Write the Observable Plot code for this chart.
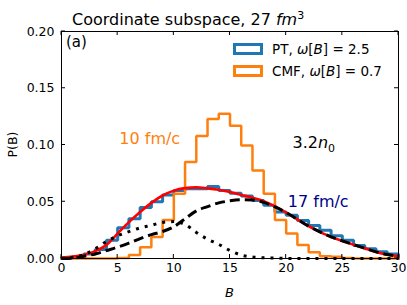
<!DOCTYPE html>
<html><head><meta charset="utf-8">
<script src="https://cdn.jsdelivr.net/npm/d3@7"></script>
<script src="https://cdn.jsdelivr.net/npm/@observablehq/plot@0.6"></script>
<style>
body{margin:0;background:#fff;}
#chart{position:relative;width:407px;height:305px;}
#chart svg{font-family:"DejaVu Sans",sans-serif;}
</style></head><body><div id="chart"></div>
<script>
// ---- data ----
const binLefts = [0,1,2,3,4,5,6,7,8,9,10,11,12,13,14,15,16,17,18,19,20,21,22,23,24,25,26,27,28,29];
const binWidth = 1;
const ptHist = [0.0005,0.0015,0.004,0.008,0.016,0.027,0.035,0.045,0.050,0.056,0.060,0.0615,0.0615,0.0635,0.060,0.0575,0.055,0.051,0.047,0.041,0.038,0.0335,0.029,0.025,0.020,0.016,0.0115,0.0085,0.006,0.004];
const cmfHist = [0,0,0,0,0,0.0005,0.003,0.010,0.019,0.034,0.057,0.085,0.108,0.123,0.1275,0.117,0.0996,0.0775,0.057,0.034,0.022,0.012,0.0055,0.002,0.0015,0.0005,0,0,0,0];
const curveB = [0,1,2,3,4,5,6,7,8,9,10,11,12,13,14,15,16,17,18,19,20,21,22,23,24,25,26,27,28,29,30];
const fitTotal = [0.0008,0.0018,0.0033,0.0065,0.012,0.022,0.032,0.041,0.049,0.0555,0.0598,0.062,0.0627,0.0618,0.0605,0.0585,0.056,0.0535,0.0505,0.046,0.0405,0.0345,0.0285,0.0235,0.019,0.0155,0.0122,0.009,0.0058,0.0035,0.002];
const compLow = [0,0.001,0.0035,0.0085,0.015,0.020,0.0237,0.027,0.0293,0.0318,0.0325,0.030,0.023,0.017,0.0125,0.007,0.003,0.0013,0.0006,0.0003,0.0001,0,0,0,0,0,0,0,0,0,0];
const compHigh = [0,0.0003,0.002,0.004,0.007,0.010,0.0135,0.0175,0.021,0.0238,0.028,0.035,0.042,0.0457,0.049,0.0508,0.0517,0.0515,0.0495,0.0455,0.0405,0.0345,0.0285,0.0235,0.019,0.0155,0.0122,0.009,0.0058,0.0035,0.002];
const xTicks = [0,5,10,15,20,25,30];
const yTicks = [0,0.05,0.10,0.15,0.20];
const yTickLabels = ["0.00","0.05","0.10","0.15","0.20"];

// step outline like matplotlib histtype="step"
function stepOutline(vals){
  const pts = [{x: binLefts[0], y: 0}];
  vals.forEach((v,i)=>pts.push({x: binLefts[i], y: v}));
  const last = binLefts[binLefts.length-1] + binWidth;
  pts.push({x: last, y: vals[vals.length-1]});
  pts.push({x: last, y: 0});
  return pts;
}
const curvePts = arr => curveB.map((b,i)=>({x:b, y:arr[i]}));

const chart = Plot.plot({
  width: 407, height: 305,
  marginLeft: 61, marginRight: 9, marginTop: 31, marginBottom: 47,
  style: {fontFamily: "DejaVu Sans, sans-serif", fontSize: "12.5px", background: "white", color: "black"},
  x: {domain: [0,30]},
  y: {domain: [0,0.2]},
  marks: [
    Plot.line(stepOutline(ptHist), {x:"x", y:"y", curve:"step-after", stroke:"#1f77b4", strokeWidth:3, strokeLinejoin:"miter"}),
    Plot.line(stepOutline(cmfHist), {x:"x", y:"y", curve:"step-after", stroke:"#ff7f0e", strokeWidth:2.5, strokeLinejoin:"miter"}),
    Plot.line(curvePts(fitTotal), {x:"x", y:"y", curve:"monotone-x", stroke:"#ff0000", strokeWidth:2.6}),
    Plot.line(curvePts(compLow), {x:"x", y:"y", curve:"monotone-x", stroke:"black", strokeWidth:3, strokeDasharray:"3,6", strokeLinecap:"butt"}),
    Plot.line(curvePts(compHigh), {x:"x", y:"y", curve:"monotone-x", stroke:"black", strokeWidth:3, strokeDasharray:"10,5", strokeLinecap:"butt"}),
    Plot.frame({stroke:"black", strokeWidth:1}),
    Plot.axisX({ticks: xTicks, tickSize: 0, tickPadding: 5, label: null, tickFormat: d => String(d)}),
    Plot.axisY({ticks: yTicks, tickSize: 0, tickPadding: 7, label: null, tickFormat: (d,i) => yTickLabels[yTicks.indexOf(d)]})
  ]
});
document.getElementById("chart").appendChild(chart);

const sx = chart.scale("x"), sy = chart.scale("y");
const svg = d3.select(chart);
const X = v => sx.apply(v), Y = v => sy.apply(v);
const x0 = X(0), x1 = X(30), y0 = Y(0), y1 = Y(0.2);
const tk = 4;
const g = svg.append("g").attr("stroke","black").attr("stroke-width",1);
xTicks.forEach(t=>{
  g.append("line").attr("x1",X(t)).attr("x2",X(t)).attr("y1",y0).attr("y2",y0-tk);
  g.append("line").attr("x1",X(t)).attr("x2",X(t)).attr("y1",y1).attr("y2",y1+tk);
});
yTicks.forEach(t=>{
  g.append("line").attr("y1",Y(t)).attr("y2",Y(t)).attr("x1",x0).attr("x2",x0+tk);
  g.append("line").attr("y1",Y(t)).attr("y2",Y(t)).attr("x1",x1).attr("x2",x1-tk);
});

// title
const title = svg.append("text").attr("x",72).attr("y",25).attr("font-size",16).attr("fill","black").attr("text-anchor","start");
title.append("tspan").text("Coordinate subspace, 27 ");
title.append("tspan").attr("font-style","italic").text("fm");
title.append("tspan").attr("font-size",11).attr("dy",-6).text("3");

// axis labels
svg.append("text").attr("x",(x0+x1)/2).attr("y",297).attr("text-anchor","middle").attr("font-size",13).attr("font-style","italic").text("B");
svg.append("text").attr("transform",`translate(17,${(y0+y1)/2}) rotate(-90)`).attr("text-anchor","middle").attr("font-size",12.5).text("P(B)");

// panel tag
svg.append("text").attr("x",66).attr("y",47).attr("font-size",15).attr("text-anchor","start").text("(a)");

// annotations
svg.append("text").attr("x",X(7.9)).attr("y",Y(0.1057)).attr("dy","0.36em").attr("text-anchor","middle").attr("font-size",16).attr("fill","#ff7f0e").text("10 fm/c");
svg.append("text").attr("x",X(22.9)).attr("y",Y(0.0498)).attr("dy","0.36em").attr("text-anchor","middle").attr("font-size",16).attr("fill","#00008b").text("17 fm/c");
const ann = svg.append("text").attr("x",X(22.5)).attr("y",Y(0.102)).attr("dy","0.36em").attr("text-anchor","middle").attr("font-size",16).attr("fill","black");
ann.append("tspan").text("3.2");
ann.append("tspan").attr("font-style","italic").text("n");
ann.append("tspan").attr("font-size",11).attr("dy",4).text("0");

// legend
const legend = [
  {label:"PT", w:"2.5", color:"#1f77b4"},
  {label:"CMF", w:"0.7", color:"#ff7f0e"}
];
legend.forEach((d,i)=>{
  const yy = 49 + i*22;
  svg.append("rect").attr("x",234.5).attr("y",yy-4.5).attr("width",27).attr("height",9)
    .attr("fill","none").attr("stroke",d.color).attr("stroke-width",3);
  const t = svg.append("text").attr("x",272).attr("y",yy+4.5).attr("font-size",13.5).attr("fill","black").attr("text-anchor","start");
  t.append("tspan").text(d.label + ", ");
  t.append("tspan").attr("font-style","italic").text("ω");
  t.append("tspan").text("[");
  t.append("tspan").attr("font-style","italic").text("B");
  t.append("tspan").text("] = " + d.w);
});
</script></body></html>
